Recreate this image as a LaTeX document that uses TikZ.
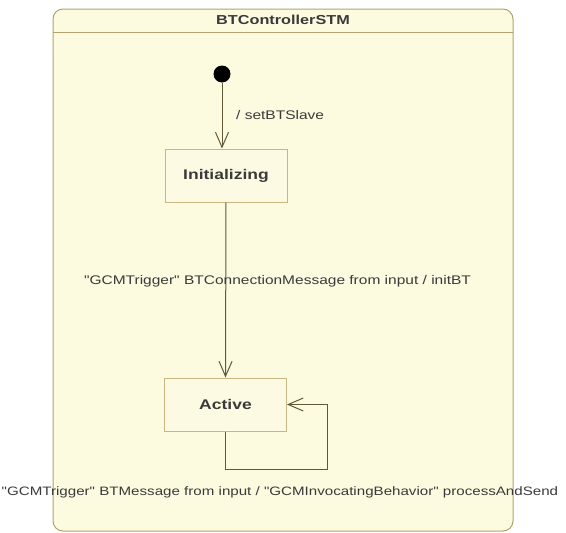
\documentclass[tikz,border=0pt]{standalone}
\usepackage{fontspec}
\setmainfont{Liberation Sans}
\newfontfamily\labelfont[FakeStretch=1.24]{Liberation Sans}
\newfontfamily\headfont[FakeStretch=1.25]{Liberation Sans}
\usetikzlibrary{arrows.meta}
\definecolor{paper}{HTML}{FCFBE0}
\definecolor{framecol}{HTML}{B3A26E}
\definecolor{statecol}{HTML}{C8B683}
\definecolor{statefill}{HTML}{FDFAE3}
\definecolor{wirecol}{HTML}{615838}
\definecolor{inkcol}{HTML}{3A3A3A}
\tikzset{
  umlframe/.style={draw=framecol, fill=paper, line width=1pt, rounded corners=10pt},
  titletext/.style={font=\headfont\bfseries\fontsize{13}{15}\selectfont, text=inkcol, inner sep=0pt},
  initdot/.style={circle, fill=black, minimum size=17pt, inner sep=0pt},
  statebox/.style={draw=statecol, fill=statefill, line width=1pt, minimum width=122pt,
    minimum height=53pt, inner sep=0pt, font=\headfont\bfseries\fontsize{14}{16}\selectfont, text=inkcol},
  trans/.style={draw=wirecol, line width=1pt,
    -{Straight Barb[length=15pt, width=13pt, line width=1pt]}},
  translabel/.style={font=\labelfont\fontsize{12.5}{14}\selectfont, text=inkcol, inner sep=0pt}
}
\begin{document}
\begin{tikzpicture}[x=1pt, y=-1pt]
\useasboundingbox (0,0) rectangle (566,533);
% state machine frame with its title bar
\draw[umlframe] (53,9) rectangle (513,531);
\draw[draw=framecol, line width=1pt] (53,32) -- (513,32);
\node[titletext] (title) at (283,20) {BTControllerSTM};
% states
\node[initdot] (start) at (222,74) {};
\node[statebox] (init) at (226,175.5) {Initializing};
\node[statebox] (active) at (225.5,404.5) {Active};
% transitions
\draw[trans] (start) -- (start |- init.north);
\node[translabel, anchor=west] (lblset) at (236,115) {/ setBTSlave};
\draw[trans] (init.south) -- (active.north);
\node[translabel] (lblinit) at (277.5,281) {"GCMTrigger" BTConnectionMessage from input / initBT};
\coordinate (loopturn) at (327,469);
\draw[trans] (active.south) |- (loopturn) |- (active.east);
\node[translabel, font=\labelfont\fontsize{12.2}{14}\selectfont, anchor=west] (lblloop) at (1.5,492)
  {"GCMTrigger" BTMessage from input / "GCMInvocatingBehavior" processAndSend};
\end{tikzpicture}
\end{document}
